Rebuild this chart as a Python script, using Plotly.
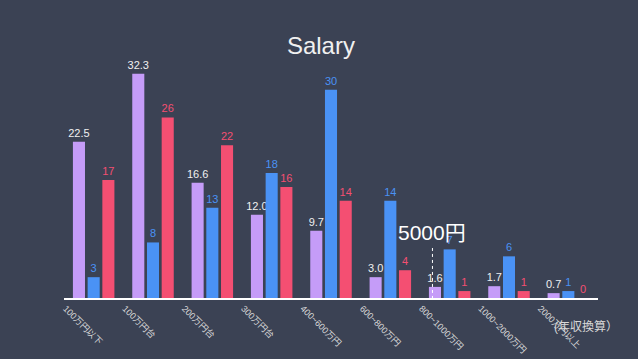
import plotly.graph_objects as go

categories = ["100万円以下", "100万円台", "200万円台", "300万円台", "400~600万円",
              "600~800万円", "800~1000万円", "1000~2000万円", "2000万円以上"]
purple_vals = [22.5, 32.3, 16.6, 12.0, 9.7, 3.0, 1.6, 1.7, 0.7]
blue_vals = [3, 8, 13, 18, 30, 14, 7, 6, 1]
red_vals = [17, 26, 22, 16, 14, 4, 1, 1, 0]

BG = "#3b4254"
PURPLE = "#c59cf8"
BLUE = "#4a92f5"
RED = "#f44f72"
FONT = "Liberation Sans, Arial, Noto Sans CJK JP, sans-serif"

L, R, T, B = 64, 40, 48, 61
W, H = 638, 359
pw, ph = W - L - R, H - T - B


def px_x(px):
    return (px - L) / pw


def px_y(py):
    return (H - B - py) / ph


fig = go.Figure()
fig.add_trace(go.Bar(x=categories, y=purple_vals, marker=dict(color=PURPLE, line=dict(width=0)),
                     texttemplate="%{y:.1f}", textposition="outside", constraintext="none",
                     textfont=dict(color="#f0f0f0", size=11), cliponaxis=False))
fig.add_trace(go.Bar(x=categories, y=blue_vals, marker=dict(color=BLUE, line=dict(width=0)),
                     texttemplate="%{y}", textposition="outside", constraintext="none",
                     textfont=dict(color=BLUE, size=11), cliponaxis=False))
fig.add_trace(go.Bar(x=categories, y=red_vals, marker=dict(color=RED, line=dict(width=0)),
                     texttemplate="%{y}", textposition="outside", constraintext="none",
                     textfont=dict(color=RED, size=11), cliponaxis=False))

fig.add_shape(type="line", xref="x", yref="y", x0=5.71, x1=5.71, y0=-1.0, y1=7.2,
              line=dict(color="white", width=1, dash="dot"))

fig.add_annotation(x=px_x(432), y=px_y(232), xref="paper", yref="paper", text="5000円",
                   xanchor="center", yanchor="middle",
                   showarrow=False, font=dict(size=21, color="white", family=FONT))
fig.add_annotation(x=px_x(586), y=px_y(326), xref="paper", yref="paper", text="(年収換算）",
                   xanchor="center", yanchor="middle",
                   showarrow=False, font=dict(size=12, color="#d8d8d8", family=FONT))

fig.update_layout(
    width=W, height=H,
    paper_bgcolor=BG, plot_bgcolor=BG,
    margin=dict(l=L, r=R, t=T, b=B, autoexpand=False),
    barmode="group", bargap=0.256, bargroupgap=0.18,
    showlegend=False,
    font=dict(family=FONT, color="#e0e0e0"),
    title=dict(text="Salary", x=0.503, xanchor="center", y=0.872, yanchor="middle",
               font=dict(size=24, color="#f0f0f0", family=FONT)),
    xaxis=dict(showgrid=False, showline=True, linecolor="white", linewidth=1.5,
               tickangle=45, tickfont=dict(size=9, color="#d8d8d8"), automargin=False,
               ticks="", ticklabelshift=-28, zeroline=False),
    yaxis=dict(range=[0, 36], showgrid=False, showticklabels=False, zeroline=False,
               showline=False, automargin=False),
)

fig.write_html("out.html", config={"displayModeBar": False},
               post_script="document.body.style.margin='0';document.body.style.background='%s';" % BG)
